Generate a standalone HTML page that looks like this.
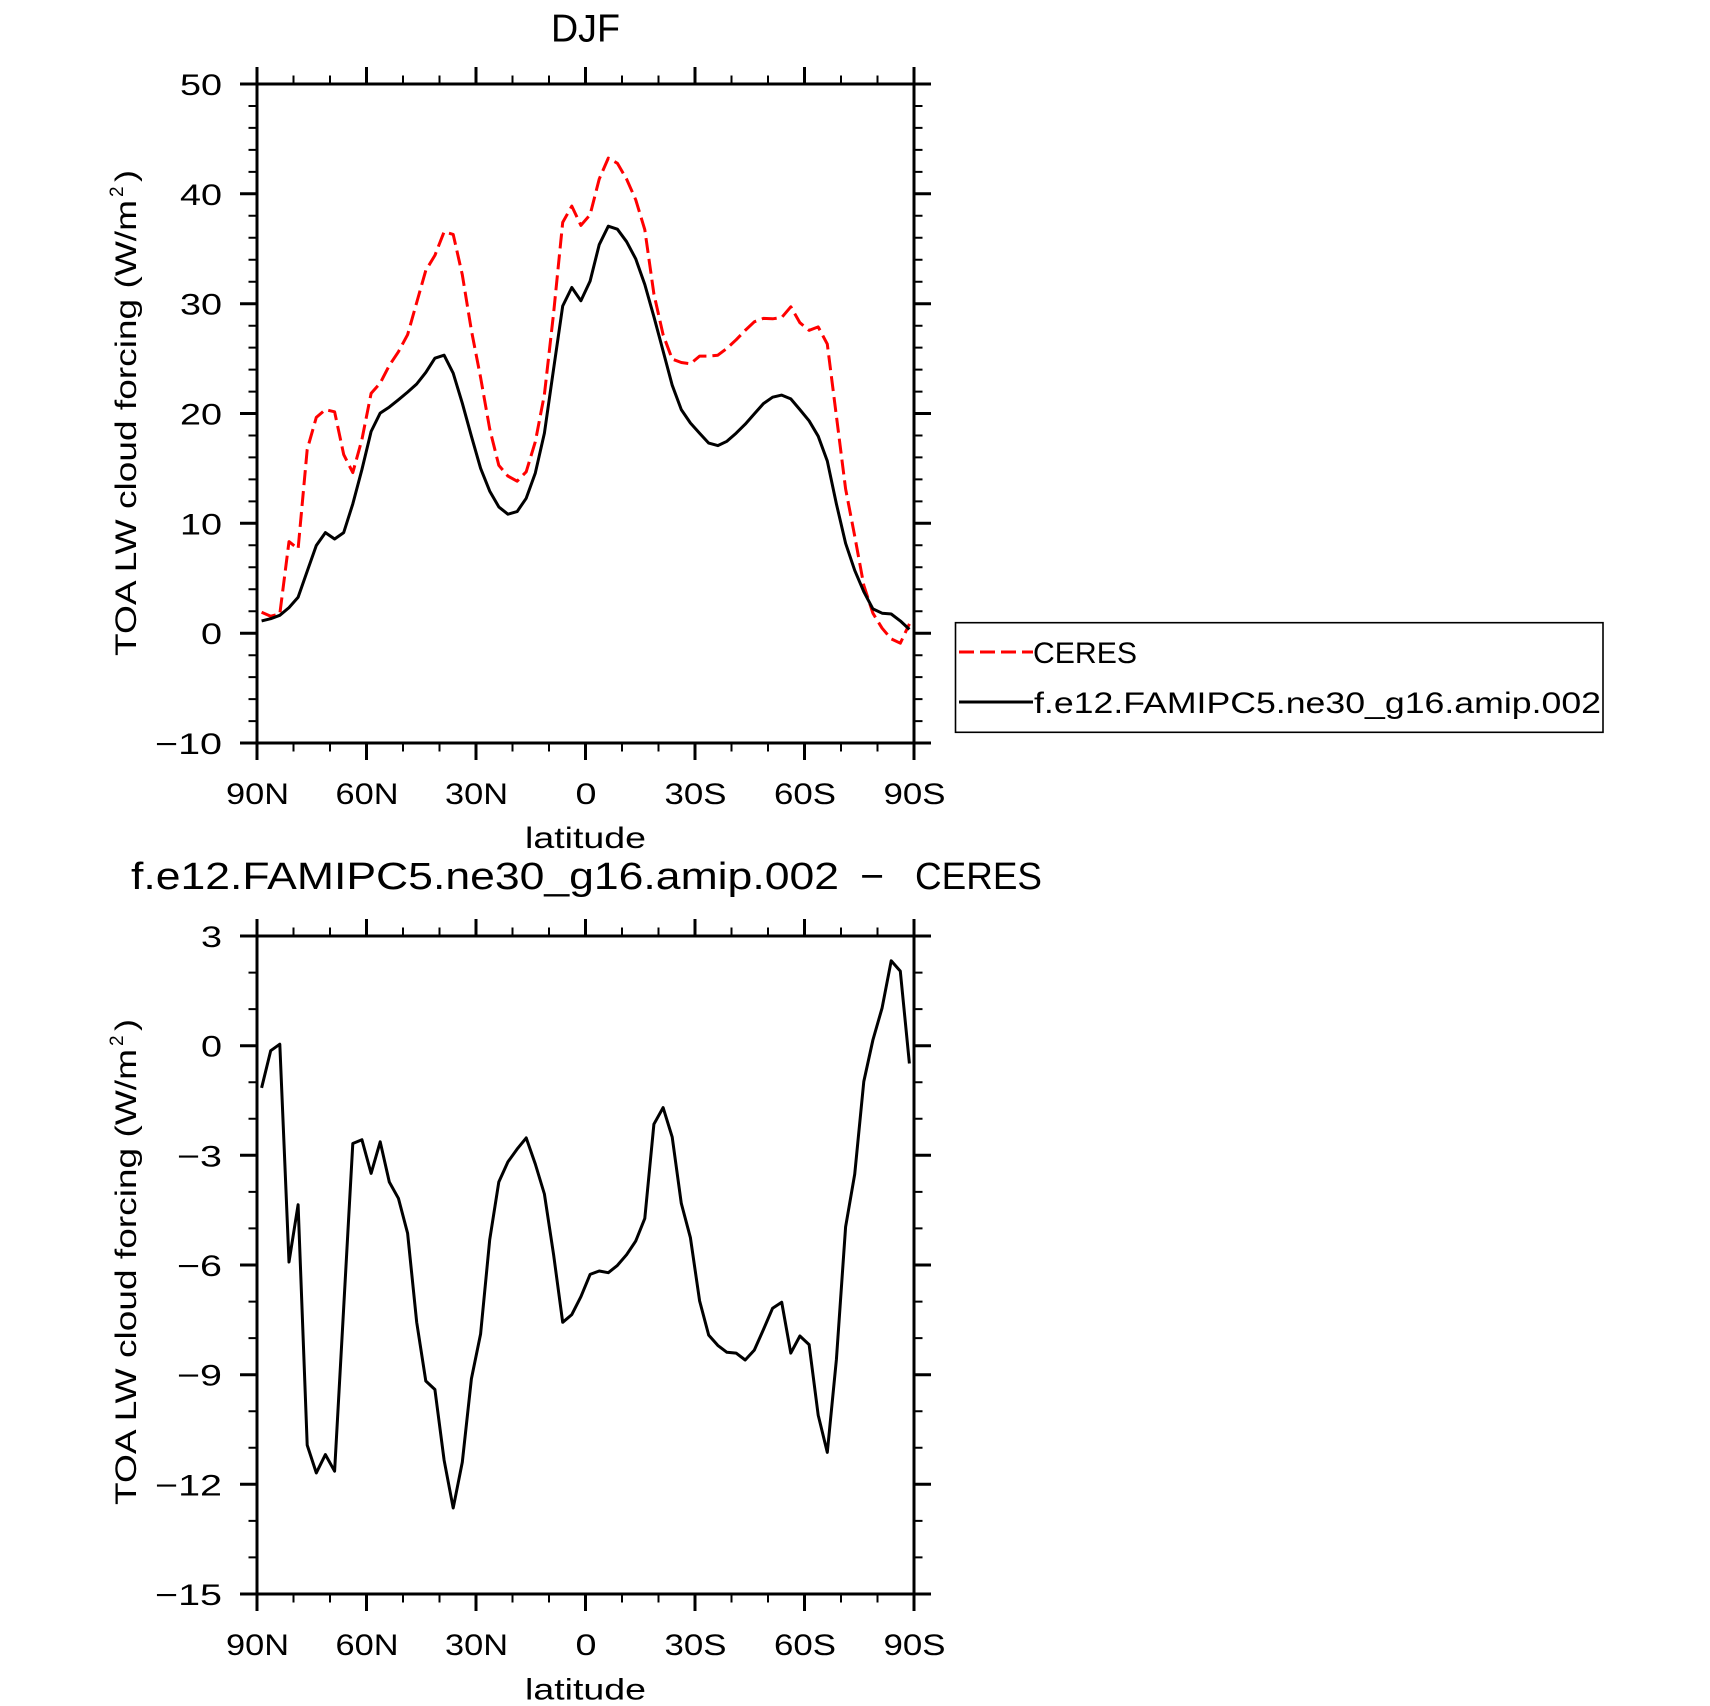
<!DOCTYPE html>
<html>
<head>
<meta charset="utf-8">
<style>
  html, body { margin: 0; padding: 0; background: #fff; }
  svg { display: block; }
  text { font-family: "Liberation Sans", "DejaVu Sans", sans-serif; fill: #000; }
</style>
</head>
<body>
<svg width="1710" height="1706" viewBox="0 0 1710 1706" xmlns="http://www.w3.org/2000/svg">
  <rect x="0" y="0" width="1710" height="1706" fill="#fff"/>

  <!-- ================= TOP PLOT ================= -->
  <text x="585.5" y="41.7" font-size="39" text-anchor="middle" textLength="69" lengthAdjust="spacingAndGlyphs">DJF</text>

  <!-- data -->
  <polyline fill="none" stroke="#ff0000" stroke-width="3" stroke-dasharray="15 6" stroke-linejoin="round"
    points="261.6,612.3 270.7,616.2 279.8,614.0 289.0,541.6 298.1,548.9 307.2,449.5 316.3,417.4 325.4,409.6 334.6,411.8 343.7,454.6 352.8,472.6 361.9,439.6 371.1,393.4 380.2,383.1 389.3,365.5 398.4,351.8 407.6,334.7 416.7,302.5 425.8,270.4 434.9,255.4 444.1,231.8 453.2,234.4 462.3,274.7 471.4,330.4 480.6,377.5 489.7,428.9 498.8,465.3 507.9,476.1 517.1,481.2 526.2,471.8 535.3,441.8 544.4,394.6 553.6,313.2 562.7,222.4 571.8,206.1 580.9,225.4 590.1,214.7 599.2,179.1 608.3,158.1 617.4,163.3 626.6,179.1 635.7,199.7 644.8,229.7 653.9,294.0 663.1,334.7 672.2,359.1 681.3,362.5 690.4,363.8 699.6,356.1 708.7,356.1 717.8,355.2 726.9,348.4 736.1,339.8 745.2,330.4 754.3,321.8 763.4,318.4 772.6,318.8 781.7,317.5 790.8,306.8 799.9,322.7 809.1,330.4 818.2,326.9 827.3,344.1 836.4,416.1 845.6,488.9 854.7,536.0 863.8,585.3 872.9,613.2 882.1,628.2 891.2,638.9 900.3,643.2 909.4,623.9"/>
  <polyline fill="none" stroke="#000" stroke-width="3" stroke-linejoin="round"
    points="261.6,620.9 270.7,618.7 279.8,615.3 289.0,607.6 298.1,597.3 307.2,571.2 316.3,545.5 325.4,532.6 334.6,539.0 343.7,532.6 352.8,503.9 361.9,469.6 371.1,431.5 380.2,413.1 389.3,407.1 398.4,399.8 407.6,392.1 416.7,384.0 425.8,372.4 434.9,358.2 444.1,355.2 453.2,373.2 462.3,403.2 471.4,436.2 480.6,468.3 489.7,491.1 498.8,506.9 507.9,514.2 517.1,511.6 526.2,498.3 535.3,473.1 544.4,433.2 553.6,368.9 562.7,306.0 571.8,287.5 580.9,300.8 590.1,281.1 599.2,244.7 608.3,226.2 617.4,229.2 626.6,241.7 635.7,258.8 644.8,284.5 653.9,316.7 663.1,351.0 672.2,385.2 681.3,409.6 690.4,423.0 699.6,433.2 708.7,443.1 717.8,445.6 726.9,441.3 736.1,433.2 745.2,424.2 754.3,413.9 763.4,403.6 772.6,397.2 781.7,395.1 790.8,398.9 799.9,409.6 809.1,420.8 818.2,436.2 827.3,461.0 836.4,503.9 845.6,543.3 854.7,570.3 863.8,591.7 872.9,608.9 882.1,613.2 891.2,614.0 900.3,620.9 909.4,629.4"/>

  <!-- frame -->
  <rect x="257" y="84" width="657" height="659" fill="none" stroke="#000" stroke-width="3"/>
  <!-- major ticks -->
  <path fill="none" stroke="#000" stroke-width="3" d="
    M257,743 V760 M366.5,743 V760 M476,743 V760 M585.5,743 V760 M695,743 V760 M804.5,743 V760 M914,743 V760
    M257,84 V67 M366.5,84 V67 M476,84 V67 M585.5,84 V67 M695,84 V67 M804.5,84 V67 M914,84 V67
    M257,84 H240 M257,193.8 H240 M257,303.7 H240 M257,413.5 H240 M257,523.3 H240 M257,633.2 H240 M257,743 H240
    M914,84 H931 M914,193.8 H931 M914,303.7 H931 M914,413.5 H931 M914,523.3 H931 M914,633.2 H931 M914,743 H931"/>
  <!-- minor ticks -->
  <path fill="none" stroke="#000" stroke-width="2" d="
    M293.5,743 V751.5 M330,743 V751.5 M403,743 V751.5 M439.5,743 V751.5 M512.5,743 V751.5 M549,743 V751.5 M622,743 V751.5 M658.5,743 V751.5 M731.5,743 V751.5 M768,743 V751.5 M841,743 V751.5 M877.5,743 V751.5
    M293.5,84 V75.5 M330,84 V75.5 M403,84 V75.5 M439.5,84 V75.5 M512.5,84 V75.5 M549,84 V75.5 M622,84 V75.5 M658.5,84 V75.5 M731.5,84 V75.5 M768,84 V75.5 M841,84 V75.5 M877.5,84 V75.5
    M257,106 H248.5 M257,127.9 H248.5 M257,149.9 H248.5 M257,171.9 H248.5
    M257,215.8 H248.5 M257,237.7 H248.5 M257,259.7 H248.5 M257,281.7 H248.5
    M257,325.7 H248.5 M257,347.6 H248.5 M257,369.6 H248.5 M257,391.6 H248.5
    M257,435.5 H248.5 M257,457.4 H248.5 M257,479.4 H248.5 M257,501.4 H248.5
    M257,545.3 H248.5 M257,567.2 H248.5 M257,589.2 H248.5 M257,611.2 H248.5
    M257,655.2 H248.5 M257,677.1 H248.5 M257,699.1 H248.5 M257,721.1 H248.5
    M914,106 H922.5 M914,127.9 H922.5 M914,149.9 H922.5 M914,171.9 H922.5
    M914,215.8 H922.5 M914,237.7 H922.5 M914,259.7 H922.5 M914,281.7 H922.5
    M914,325.7 H922.5 M914,347.6 H922.5 M914,369.6 H922.5 M914,391.6 H922.5
    M914,435.5 H922.5 M914,457.4 H922.5 M914,479.4 H922.5 M914,501.4 H922.5
    M914,545.3 H922.5 M914,567.2 H922.5 M914,589.2 H922.5 M914,611.2 H922.5
    M914,655.2 H922.5 M914,677.1 H922.5 M914,699.1 H922.5 M914,721.1 H922.5"/>

  <!-- y tick labels -->
  <g font-size="30" text-anchor="end">
    <text x="222" y="95" textLength="42" lengthAdjust="spacingAndGlyphs">50</text>
    <text x="222" y="204.8" textLength="42" lengthAdjust="spacingAndGlyphs">40</text>
    <text x="222" y="314.7" textLength="42" lengthAdjust="spacingAndGlyphs">30</text>
    <text x="222" y="424.5" textLength="42" lengthAdjust="spacingAndGlyphs">20</text>
    <text x="222" y="534.3" textLength="42" lengthAdjust="spacingAndGlyphs">10</text>
    <text x="222" y="644.2" textLength="21" lengthAdjust="spacingAndGlyphs">0</text>
    <text x="222" y="754" textLength="67" lengthAdjust="spacingAndGlyphs">−10</text>
  </g>
  <!-- x tick labels -->
  <g font-size="30" text-anchor="middle">
    <text x="257.5" y="804" textLength="63" lengthAdjust="spacingAndGlyphs">90N</text>
    <text x="367" y="804" textLength="63" lengthAdjust="spacingAndGlyphs">60N</text>
    <text x="476.5" y="804" textLength="63" lengthAdjust="spacingAndGlyphs">30N</text>
    <text x="586" y="804" textLength="21" lengthAdjust="spacingAndGlyphs">0</text>
    <text x="695.5" y="804" textLength="62" lengthAdjust="spacingAndGlyphs">30S</text>
    <text x="805" y="804" textLength="62" lengthAdjust="spacingAndGlyphs">60S</text>
    <text x="914.5" y="804" textLength="62" lengthAdjust="spacingAndGlyphs">90S</text>
    <text x="585.5" y="848" textLength="121" lengthAdjust="spacingAndGlyphs">latitude</text>
  </g>
  <!-- y axis title -->
  <g transform="translate(136,656) rotate(-90)" font-size="30">
    <text x="0" y="0" textLength="456" lengthAdjust="spacingAndGlyphs">TOA LW cloud forcing (W/m</text>
    <text x="459" y="-13" font-size="19">2</text>
    <text x="474" y="0" textLength="12" lengthAdjust="spacingAndGlyphs">)</text>
  </g>

  <!-- legend -->
  <rect x="955.5" y="622.7" width="647.5" height="109.6" fill="none" stroke="#000" stroke-width="1.6"/>
  <line x1="959" y1="652" x2="1033" y2="652" stroke="#ff0000" stroke-width="3" stroke-dasharray="15 6"/>
  <line x1="959" y1="702" x2="1033" y2="702" stroke="#000" stroke-width="3"/>
  <text x="1033" y="663" font-size="30" textLength="104" lengthAdjust="spacingAndGlyphs">CERES</text>
  <text x="1034" y="713" font-size="30" textLength="567" lengthAdjust="spacingAndGlyphs">f.e12.FAMIPC5.ne30_g16.amip.002</text>

  <!-- ================= BOTTOM PLOT ================= -->
  <text x="131" y="889" font-size="38" textLength="708" lengthAdjust="spacingAndGlyphs">f.e12.FAMIPC5.ne30_g16.amip.002</text>
  <text x="860" y="889" font-size="38" textLength="24" lengthAdjust="spacingAndGlyphs">−</text>
  <text x="915" y="889" font-size="38" textLength="127" lengthAdjust="spacingAndGlyphs">CERES</text>

  <polyline fill="none" stroke="#000" stroke-width="3" stroke-linejoin="round"
    points="261.6,1087.9 270.7,1050.7 279.8,1044.2 289.0,1262.0 298.1,1204.7 307.2,1445.1 316.3,1472.9 325.4,1454.6 334.6,1471.2 343.7,1307.4 352.8,1143.5 361.9,1139.7 371.1,1173.4 380.2,1141.8 389.3,1182.0 398.4,1198.3 407.6,1233.3 416.7,1322.3 425.8,1381.0 434.9,1389.5 444.1,1460.1 453.2,1508.0 462.3,1462.2 471.4,1378.8 480.6,1333.9 489.7,1239.8 498.8,1182.0 507.9,1161.9 517.1,1149.1 526.2,1137.9 535.3,1164.0 544.4,1194.0 553.6,1254.7 562.7,1322.3 571.8,1314.6 580.9,1296.7 590.1,1274.4 599.2,1271.0 608.3,1272.7 617.4,1265.4 626.6,1254.7 635.7,1241.1 644.8,1218.4 653.9,1124.2 663.1,1107.6 672.2,1137.1 681.3,1203.4 690.4,1237.6 699.6,1300.9 708.7,1335.1 717.8,1345.4 726.9,1352.3 736.1,1353.1 745.2,1360.0 754.3,1350.1 763.4,1329.6 772.6,1308.2 781.7,1302.2 790.8,1353.1 799.9,1336.0 809.1,1344.6 818.2,1415.2 827.3,1452.4 836.4,1359.5 845.6,1226.9 854.7,1174.3 863.8,1081.5 872.9,1040.0 882.1,1007.9 891.2,960.8 900.3,971.1 909.4,1063.5"/>

  <rect x="257" y="936" width="657" height="658" fill="none" stroke="#000" stroke-width="3"/>
  <path fill="none" stroke="#000" stroke-width="3" d="
    M257,1594 V1611 M366.5,1594 V1611 M476,1594 V1611 M585.5,1594 V1611 M695,1594 V1611 M804.5,1594 V1611 M914,1594 V1611
    M257,936 V919 M366.5,936 V919 M476,936 V919 M585.5,936 V919 M695,936 V919 M804.5,936 V919 M914,936 V919
    M257,936 H240 M257,1045.7 H240 M257,1155.3 H240 M257,1265 H240 M257,1374.7 H240 M257,1484.3 H240 M257,1594 H240
    M914,936 H931 M914,1045.7 H931 M914,1155.3 H931 M914,1265 H931 M914,1374.7 H931 M914,1484.3 H931 M914,1594 H931"/>
  <path fill="none" stroke="#000" stroke-width="2" d="
    M293.5,1594 V1602.5 M330,1594 V1602.5 M403,1594 V1602.5 M439.5,1594 V1602.5 M512.5,1594 V1602.5 M549,1594 V1602.5 M622,1594 V1602.5 M658.5,1594 V1602.5 M731.5,1594 V1602.5 M768,1594 V1602.5 M841,1594 V1602.5 M877.5,1594 V1602.5
    M293.5,936 V927.5 M330,936 V927.5 M403,936 V927.5 M439.5,936 V927.5 M512.5,936 V927.5 M549,936 V927.5 M622,936 V927.5 M658.5,936 V927.5 M731.5,936 V927.5 M768,936 V927.5 M841,936 V927.5 M877.5,936 V927.5
    M257,972.6 H248.5 M257,1009.1 H248.5 M257,1082.2 H248.5 M257,1118.8 H248.5 M257,1191.9 H248.5 M257,1228.4 H248.5
    M257,1301.6 H248.5 M257,1338.1 H248.5 M257,1411.2 H248.5 M257,1447.8 H248.5 M257,1520.9 H248.5 M257,1557.4 H248.5
    M914,972.6 H922.5 M914,1009.1 H922.5 M914,1082.2 H922.5 M914,1118.8 H922.5 M914,1191.9 H922.5 M914,1228.4 H922.5
    M914,1301.6 H922.5 M914,1338.1 H922.5 M914,1411.2 H922.5 M914,1447.8 H922.5 M914,1520.9 H922.5 M914,1557.4 H922.5"/>

  <g font-size="30" text-anchor="end">
    <text x="222" y="947" textLength="21" lengthAdjust="spacingAndGlyphs">3</text>
    <text x="222" y="1056.7" textLength="21" lengthAdjust="spacingAndGlyphs">0</text>
    <text x="222" y="1166.3" textLength="45" lengthAdjust="spacingAndGlyphs">−3</text>
    <text x="222" y="1276" textLength="45" lengthAdjust="spacingAndGlyphs">−6</text>
    <text x="222" y="1385.7" textLength="45" lengthAdjust="spacingAndGlyphs">−9</text>
    <text x="222" y="1495.3" textLength="67" lengthAdjust="spacingAndGlyphs">−12</text>
    <text x="222" y="1605" textLength="67" lengthAdjust="spacingAndGlyphs">−15</text>
  </g>
  <g font-size="30" text-anchor="middle">
    <text x="257.5" y="1655" textLength="63" lengthAdjust="spacingAndGlyphs">90N</text>
    <text x="367" y="1655" textLength="63" lengthAdjust="spacingAndGlyphs">60N</text>
    <text x="476.5" y="1655" textLength="63" lengthAdjust="spacingAndGlyphs">30N</text>
    <text x="586" y="1655" textLength="21" lengthAdjust="spacingAndGlyphs">0</text>
    <text x="695.5" y="1655" textLength="62" lengthAdjust="spacingAndGlyphs">30S</text>
    <text x="805" y="1655" textLength="62" lengthAdjust="spacingAndGlyphs">60S</text>
    <text x="914.5" y="1655" textLength="62" lengthAdjust="spacingAndGlyphs">90S</text>
    <text x="585.5" y="1699.5" textLength="121" lengthAdjust="spacingAndGlyphs">latitude</text>
  </g>
  <g transform="translate(136,1505) rotate(-90)" font-size="30">
    <text x="0" y="0" textLength="456" lengthAdjust="spacingAndGlyphs">TOA LW cloud forcing (W/m</text>
    <text x="459" y="-13" font-size="19">2</text>
    <text x="474" y="0" textLength="12" lengthAdjust="spacingAndGlyphs">)</text>
  </g>
</svg>
</body>
</html>
